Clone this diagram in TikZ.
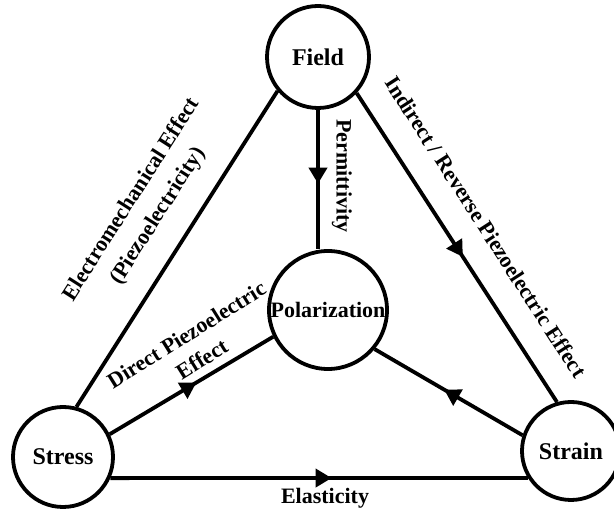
\documentclass[tikz,border=0pt]{standalone}
\usepackage{fontspec}
\setmainfont{Liberation Serif}
\usepackage{tikz}
\usetikzlibrary{arrows.meta, decorations.markings}
\tikzset{
		quantity/.style={draw, circle, line width=3.8pt, inner sep=0pt, font=\fontsize{24}{28}\selectfont\bfseries},
		effect/.style={font=\fontsize{22}{29}\selectfont\bfseries, align=center, inner sep=0pt},
		link/.style={line width=3.8pt},
		midarrow/.style={postaction={decorate}, decoration={markings, mark=at position #1 with {\arrow{Triangle[length=16pt,width=18pt]}}}},
		midarrow/.default=0.53
	}
\begin{document}
\begin{tikzpicture}[x=1pt, y=-1pt]
				\useasboundingbox (0,0) rectangle (614,510);
				\node[quantity, minimum size=102pt] (field)  at (318,57)  {Field};
				\node[quantity, minimum size=118pt, font=\fontsize{22}{26}\selectfont\bfseries] (pol) at (328,310) {Polarization};
				\node[quantity, minimum size=100pt] (stress) at (63,457)  {Stress};
				\node[quantity, minimum size=98pt]  (strain) at (571,451) {Strain};
				\draw[link] (stress.75) -- (field.220);
				\draw[link, midarrow] (field.-43) -- (strain.106);
				\draw[link, midarrow] (field.south) -- (field.south |- pol.north);
				\draw[link, midarrow] (stress.26) -- (pol.206);
				\draw[link, midarrow] (strain.162) -- (pol.-40);
				\draw[link, midarrow] (stress.-24) -- (strain.212);
				\node[effect, rotate=57.5, font=\fontsize{22}{31}\selectfont\bfseries] (emlabel) at (145,208) {Electromechanical Effect\\(Piezoelectricity)};
				\node[effect, rotate=-57.2] (indlabel)  at (486,227) {Indirect / Reverse Piezoelectric Effect};
				\node[effect, rotate=-90]   (permlabel) at (342,176) {Permittivity};
				\node[effect, rotate=32]    (dirlabel)  at (194,347) {Direct Piezoelectric\\Effect};
				\node[effect]               (elaslabel) at (325,498) {Elasticity};
			\end{tikzpicture}
\end{document}
